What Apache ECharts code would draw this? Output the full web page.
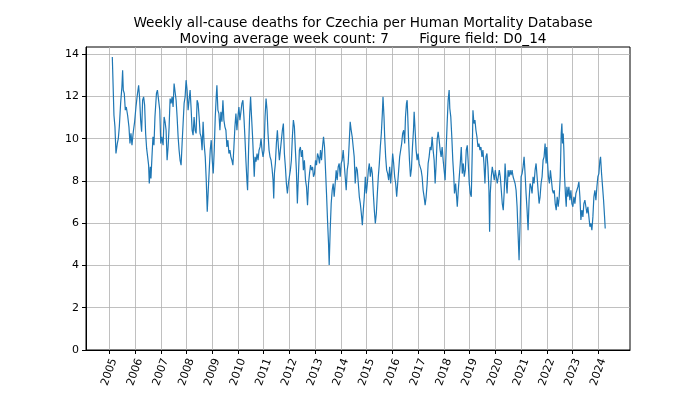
<!DOCTYPE html>
<html>
<head>
<meta charset="utf-8">
<script src="https://cdn.jsdelivr.net/npm/echarts@6/dist/echarts.min.js"></script>
<style>html,body{margin:0;padding:0;background:#fff}#c{width:700px;height:394px}</style>
</head>
<body>
<div id="c"></div>
<script>
// Fractional year of each reading and the 7-week moving average of weekly deaths
var years = [
2005.117,2005.181,2005.22,2005.259,2005.311,2005.35,2005.389,2005.44,2005.49,2005.518,2005.544,2005.583,2005.622,2005.66,2005.712,2005.764,2005.803,2005.842,2005.881,2005.933,2005.984,
2006.036,2006.088,2006.14,2006.179,2006.218,2006.256,2006.295,2006.334,2006.373,2006.412,2006.451,2006.49,2006.528,2006.554,2006.593,2006.619,2006.658,2006.697,2006.736,2006.774,
2006.832,2006.87,2006.922,2006.961,2007.0,2007.039,2007.091,2007.13,2007.168,2007.207,2007.246,2007.285,2007.324,2007.363,2007.402,2007.44,2007.479,2007.518,2007.557,2007.596,2007.635,2007.674,2007.712,2007.751,2007.79,2007.829,2007.868,2007.907,2007.946,2007.984,
2008.023,2008.062,2008.101,2008.14,2008.179,2008.218,2008.256,2008.295,2008.334,2008.373,2008.412,2008.451,2008.49,2008.528,2008.567,2008.606,2008.645,2008.684,
2008.728,2008.767,2008.806,2008.845,2008.883,2008.922,2008.961,2009.0,2009.039,2009.078,2009.117,2009.155,2009.181,2009.22,2009.259,2009.298,2009.337,2009.376,2009.415,2009.453,2009.492,2009.531,2009.57,2009.609,2009.648,2009.687,2009.725,2009.764,2009.803,2009.842,2009.881,2009.92,2009.959,2009.997,
2010.036,2010.075,2010.114,2010.153,2010.192,2010.231,2010.269,2010.308,2010.347,2010.373,2010.412,2010.451,2010.49,2010.528,2010.567,2010.606,2010.632,
2010.663,2010.702,2010.741,2010.78,2010.819,2010.858,2010.896,2010.935,2010.974,2011.013,2011.052,2011.091,2011.13,2011.168,2011.207,2011.246,2011.285,2011.324,2011.363,2011.389,2011.415,2011.453,2011.492,2011.531,2011.57,2011.609,2011.648,2011.687,2011.725,2011.764,2011.803,2011.842,2011.881,2011.92,2011.959,2011.997,
2012.036,2012.075,2012.114,2012.153,2012.192,2012.231,2012.269,2012.308,2012.347,2012.386,2012.425,2012.464,2012.503,2012.542,2012.58,
2012.624,2012.663,2012.702,2012.741,2012.78,2012.819,2012.858,2012.896,2012.935,2012.974,2013.013,2013.052,2013.091,2013.13,2013.168,2013.207,2013.246,2013.285,2013.324,2013.363,2013.402,2013.44,2013.479,2013.518,2013.544,2013.583,2013.622,2013.661,2013.7,2013.738,2013.777,2013.816,2013.855,2013.894,2013.933,2013.972,
2014.01,2014.049,2014.088,2014.127,2014.166,2014.205,2014.244,2014.282,2014.321,2014.36,2014.399,2014.438,2014.477,2014.516,2014.555,
2014.598,2014.637,2014.676,2014.715,2014.754,2014.793,2014.832,2014.87,2014.909,2014.948,2014.987,2015.026,2015.065,2015.104,2015.142,2015.181,2015.22,2015.259,2015.298,2015.337,2015.376,2015.415,2015.453,2015.492,2015.531,2015.57,2015.609,2015.635,2015.674,2015.7,2015.738,2015.777,2015.816,2015.855,2015.894,2015.933,2015.972,
2016.01,2016.049,2016.088,2016.127,2016.166,2016.205,2016.244,2016.282,2016.321,2016.36,2016.399,2016.438,2016.477,
2016.508,2016.547,2016.573,2016.598,2016.624,2016.663,2016.702,2016.741,2016.78,2016.819,2016.845,2016.883,2016.922,2016.961,2017.0,2017.039,2017.078,2017.117,2017.155,2017.194,2017.233,2017.272,2017.311,2017.35,2017.389,2017.427,2017.466,2017.505,2017.544,2017.583,2017.622,2017.661,2017.7,2017.738,2017.777,2017.816,2017.855,2017.894,2017.933,2017.972,
2018.01,2018.049,2018.088,2018.127,2018.166,2018.205,2018.231,2018.269,2018.308,2018.347,2018.386,2018.412,
2018.456,2018.495,2018.521,2018.56,2018.598,2018.637,2018.676,2018.715,2018.754,2018.793,2018.832,2018.87,2018.909,2018.948,2018.987,2019.026,2019.065,2019.104,2019.13,2019.168,2019.207,2019.246,2019.285,2019.324,2019.363,2019.402,2019.44,2019.479,2019.518,2019.557,2019.596,2019.635,2019.674,2019.712,2019.751,2019.777,2019.803,2019.842,2019.881,2019.92,2019.959,2019.997,
2020.036,2020.075,2020.114,2020.153,2020.192,2020.231,2020.269,2020.308,2020.347,
2020.378,2020.417,2020.456,2020.495,2020.534,2020.573,2020.611,2020.65,2020.689,2020.728,2020.767,2020.806,2020.845,2020.883,2020.922,2020.961,2021.0,2021.039,2021.078,2021.117,2021.155,2021.194,2021.233,2021.272,2021.311,2021.35,2021.389,2021.427,2021.466,2021.505,2021.544,2021.583,2021.622,2021.661,2021.7,2021.738,2021.777,2021.816,2021.855,2021.894,2021.933,2021.972,2021.997,
2022.023,2022.062,2022.101,2022.14,2022.179,2022.218,2022.256,
2022.288,2022.326,2022.365,2022.404,2022.443,2022.482,2022.521,2022.56,2022.585,2022.611,2022.637,2022.663,2022.689,2022.728,2022.754,2022.78,2022.819,2022.858,2022.896,2022.935,2022.974,2023.013,2023.052,2023.091,2023.13,2023.168,2023.207,2023.246,2023.285,2023.324,2023.363,2023.402,2023.44,2023.479,2023.518,2023.557,2023.596,2023.635,2023.674,2023.712,2023.751,2023.79,2023.829,2023.868,2023.907,2023.946,2023.984,
2024.023,2024.062,2024.088,2024.127,2024.166,2024.205,2024.244,2024.269
];
var deaths = [
13.87,11.11,10.56,9.30,9.77,10.0,10.56,11.67,12.45,13.24,12.30,12.14,11.35,11.5,11.11,10.56,9.77,10.25,9.69,10.33,10.8,
11.5,12.06,12.53,11.9,10.88,10.33,11.82,11.98,11.59,10.25,9.54,9.14,8.75,7.88,8.67,8.12,9.14,10.09,9.69,11.03,
12.14,12.30,12.22,11.35,9.77,10.09,9.69,11.03,10.8,10.4,8.98,9.61,10.56,11.9,11.67,11.98,11.5,12.61,12.69,11.82,11.03,10.09,9.46,8.98,8.75,9.77,10.72,11.67,11.98,12.77,
12.30,11.35,11.82,12.30,11.43,10.4,10.17,11.03,10.4,10.25,11.82,11.67,11.03,10.25,10.09,9.46,10.8,9.77,
9.14,8.04,6.54,7.56,8.51,9.46,9.93,8.98,8.35,9.46,11.03,11.98,12.53,11.35,11.19,10.4,11.27,10.8,11.82,10.88,10.56,10.4,9.61,9.93,9.3,9.46,9.14,8.98,8.75,9.61,10.56,11.19,10.4,11.03,
11.5,10.88,11.27,11.67,11.82,11.03,10.09,8.98,8.04,7.56,9.46,11.03,11.98,11.03,10.09,8.98,8.2,
9.14,8.91,9.30,8.98,9.46,9.61,10.01,9.46,9.14,9.46,11.03,11.9,11.35,10.25,9.46,9.14,8.98,8.59,8.04,7.17,8.35,8.83,9.77,10.4,9.61,8.98,9.46,9.93,10.4,10.72,9.3,8.67,7.88,7.41,7.88,8.2,
8.51,8.98,10.09,10.88,10.56,9.46,8.51,6.93,8.2,9.46,9.61,9.14,9.46,8.51,8.98,
8.04,7.72,6.85,7.88,8.35,8.75,8.51,8.67,8.2,8.35,8.98,8.75,9.3,9.14,8.83,9.46,8.98,9.61,10.09,9.61,8.51,7.41,6.15,5.04,4.02,5.67,6.93,7.56,7.88,7.25,7.88,8.51,8.04,8.67,8.83,8.2,
8.83,8.98,9.46,8.83,8.2,7.56,8.51,8.83,9.77,10.8,10.4,10.09,9.61,9.14,7.88,
8.67,8.51,7.88,7.25,6.93,6.46,5.91,6.62,7.25,8.2,7.41,7.88,8.51,8.83,8.2,8.67,8.35,7.41,6.62,5.99,6.46,7.41,8.2,8.83,9.61,10.25,11.19,11.98,11.03,10.09,9.14,8.51,8.35,8.04,8.67,7.88,8.51,
9.3,8.83,8.2,7.88,7.25,7.88,8.51,9.14,9.46,9.77,10.25,10.4,9.77,
11.03,11.67,11.82,11.03,10.09,8.98,8.2,8.59,9.61,10.4,11.27,10.4,9.46,8.98,9.3,8.83,8.67,8.51,8.2,7.56,7.25,6.85,7.25,7.88,8.83,9.14,9.61,9.46,10.09,9.46,8.98,7.88,8.83,9.93,10.33,9.93,9.46,9.14,9.61,8.98,
8.51,8.04,9.46,10.72,11.82,12.3,11.43,11.03,10.09,8.98,8.2,7.41,
7.88,7.25,6.78,7.56,8.2,8.83,9.61,8.35,8.83,8.2,8.51,9.46,9.69,8.83,7.88,7.41,7.25,9.46,11.35,10.72,10.88,10.4,10.09,9.61,9.77,9.46,9.61,9.14,9.46,8.83,7.88,9.14,9.3,8.67,7.56,5.6,7.41,8.2,8.67,8.35,8.04,8.51,
8.2,7.88,8.2,8.51,8.2,7.56,6.93,6.62,7.56,
8.83,8.04,7.41,8.51,8.2,8.51,8.27,8.51,8.2,8.04,7.88,7.56,6.78,5.51,4.25,5.99,8.2,8.35,8.67,9.14,8.35,7.41,6.62,5.67,7.09,7.88,7.72,7.41,8.2,7.88,8.51,8.83,8.2,7.56,6.93,7.25,7.88,8.2,8.98,9.14,9.77,8.83,9.61,
8.98,8.2,7.88,8.51,8.04,7.56,7.41,
7.56,6.93,6.62,7.25,6.78,7.25,8.2,10.25,10.72,9.77,10.25,9.46,8.2,7.25,6.78,7.72,7.25,7.72,7.09,7.56,6.93,6.78,7.25,6.93,7.41,7.56,7.72,7.96,7.25,6.15,6.62,6.3,6.93,7.09,6.78,6.46,6.78,6.3,5.83,5.99,5.67,6.3,7.25,7.56,7.09,7.72,8.2,
8.35,8.98,9.14,8.35,7.72,7.09,6.3,5.75
];
var yearTicks = [2005,2006,2007,2008,2009,2010,2011,2012,2013,2014,2015,2016,2017,2018,2019,2020,2021,2022,2023,2024];
var valueTicks = [0,2,4,6,8,10,12,14];
var titleLines = ['Weekly all-cause deaths for Czechia per Human Mortality Database', 'Moving average week count: 7       Figure field: D0_14'];

var points = years.map(function (y, i) { return [y, deaths[i]]; });
var font = 'DejaVu Sans';
var chart = echarts.init(document.getElementById('c'), null, {renderer: 'canvas'});
chart.setOption({
  animation: false,
  backgroundColor: '#ffffff',
  title: {
    text: titleLines.join('\n'),
    left: 358, top: 10, textAlign: 'center',
    textStyle: {fontFamily: font, fontSize: 13.6, fontWeight: 'normal', color: '#000', lineHeight: 16}
  },
  grid: {left: 86, right: 70, top: 47, bottom: 44, show: true, borderColor: '#000', borderWidth: 1, backgroundColor: 'transparent'},
  xAxis: {
    type: 'value', min: 2004.095, max: 2025.232,
    axisLine: {show: true, onZero: false, lineStyle: {color: '#000', width: 1}},
    axisTick: {show: true, length: 4, customValues: yearTicks, lineStyle: {color: '#000'}},
    axisLabel: {customValues: yearTicks, rotate: 70, margin: 22, align: 'center', verticalAlign: 'middle', fontFamily: font, fontSize: 11, color: '#000', formatter: function (v) { return String(Math.round(v)); }},
    splitLine: {show: true, lineStyle: {color: '#b0b0b0', width: 0.8}}
  },
  yAxis: {
    type: 'value', min: 0, max: 14.34,
    axisLine: {show: true, lineStyle: {color: '#000', width: 1}},
    axisTick: {show: true, length: 4, customValues: valueTicks, lineStyle: {color: '#000'}},
    axisLabel: {customValues: valueTicks, margin: 7, fontFamily: font, fontSize: 11, color: '#000'},
    splitLine: {show: true, lineStyle: {color: '#b0b0b0', width: 0.8}}
  },
  series: [{
    type: 'line', data: points, showSymbol: false, symbol: 'none',
    lineStyle: {color: '#1f77b4', width: 1.2}, z: 3
  }]
});
</script>
</body>
</html>
